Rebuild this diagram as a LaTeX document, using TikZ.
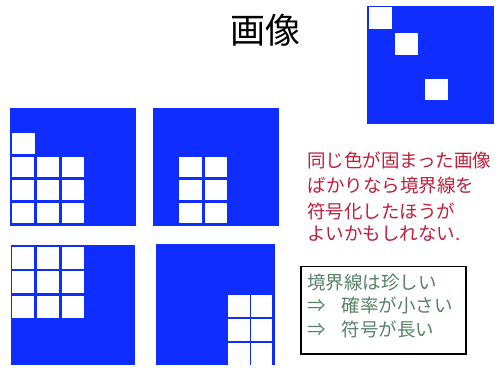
\documentclass[tikz,border=0pt]{standalone}
\usepackage{fontspec}
\newfontfamily\jp{Noto Sans CJK JP}
\definecolor{pblue}{RGB}{15,45,255}
\definecolor{rtext}{RGB}{190,30,60}
\definecolor{gtext}{RGB}{85,130,100}
\tikzset{
  panel/.style={fill=pblue,draw=none},
  cell/.style={fill=white},
  redline/.style={anchor=west,inner sep=0pt,text=rtext,font=\jp\fontsize{18.5}{20}\selectfont},
  greenline/.style={anchor=west,inner sep=0pt,text=gtext,font=\jp\fontsize{18.5}{20}\selectfont},
}
\begin{document}
\begin{tikzpicture}[x=1pt,y=-1pt]
\useasboundingbox (0,0) rectangle (500,367);
% title
\node[font=\jp\fontsize{35}{36}\selectfont,inner sep=0pt] (title) at (265,30) {画像};
% top-right panel
\fill[panel] (367.3,5.7) rectangle (494,124.3);
\fill[cell] (369.3,7.3) rectangle (392.3,29.3);
\fill[cell] (395,32.7) rectangle (417.7,55);
\fill[cell] (425.3,79) rectangle (448.3,100);
% panel 1
\fill[panel] (10,108) rectangle (136,226);
\fill[cell] (12,132.7) rectangle (35,154);
\foreach \cx in {12,36.8,61.6}
  \foreach \cy in {156.7,179.5,202.5}
    \fill[cell] (\cx,\cy) rectangle ++(22.3,20.5);
% panel 2
\fill[panel] (153,108) rectangle (279,226);
\foreach \cx in {179.3,204.5}
  \foreach \cy in {156.7,179.5,202.5}
    \fill[cell] (\cx,\cy) rectangle ++(22.3,20.5);
% panel 3
\fill[panel] (11,245) rectangle (135,365);
\foreach \cx in {12,36.8,61.6}
  \foreach \cy in {246.7,271.2,295.7}
    \fill[cell] (\cx,\cy) rectangle ++(22.3,22.2);
% panel 4
\fill[panel] (156,244.3) rectangle (275,365);
\foreach \cx in {228.3,251}
  \foreach \cy in {295,319,343}
    \fill[cell] (\cx,\cy) rectangle ++(21.3,21.5);
% red text
\node[redline] (r1) at (307,160.5) {同じ色が固まった画像};
\node[redline] (r2) at (307,185.8) {ばかりなら境界線を};
\node[redline] (r3) at (307,211) {符号化したほうが};
\node[redline] (r4) at (307,234) {よいかもしれない.};
% green box
\draw[line width=1.4pt] (301,266.7) rectangle (466,354);
\node[greenline] (g1) at (307,282.5) {境界線は珍しい};
\node[greenline] (g2) at (307,305.8) {\makebox[34.7pt][l]{⇒}確率が小さい};
\node[greenline] (g3) at (307,329) {\makebox[34.7pt][l]{⇒}符号が長い};
\end{tikzpicture}
\end{document}
